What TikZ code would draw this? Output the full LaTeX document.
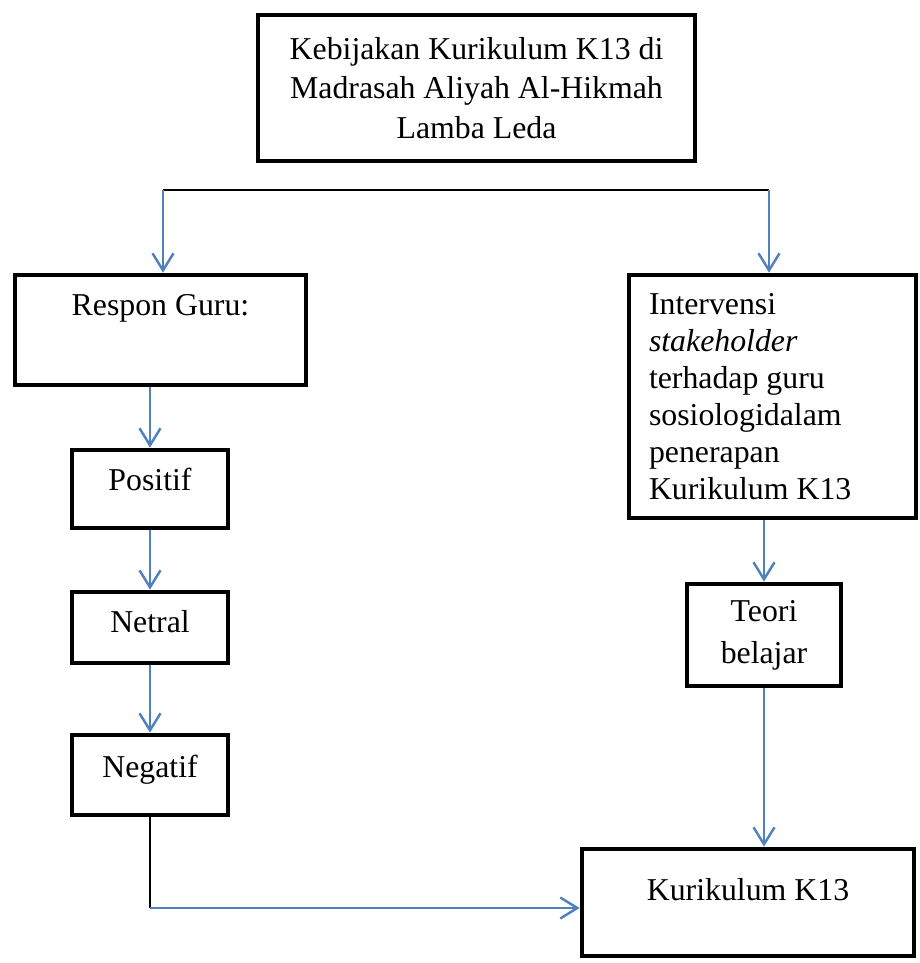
\documentclass[tikz,border=0pt]{standalone}
\usepackage{fontspec}
\setmainfont{Liberation Serif}
\usepackage{tikz}
\usetikzlibrary{arrows.meta}
\definecolor{flowblue}{RGB}{79,129,189}

\begin{document}
\begin{tikzpicture}[
    box/.style={draw, line width=2.7pt, inner ysep=0pt, align=center,
        font=\fontsize{18.1pt}{21.1pt}\selectfont},
    flow/.style={draw=flowblue, line width=1.4pt,
        -{Straight Barb[length=3.4mm, width=4.2mm]}},
    link/.style={draw, line width=1.1pt}
]
    \useasboundingbox (0,0) rectangle (18.4,-19.26);

    % kebijakan
    \node[box, minimum width=8.74cm, minimum height=2.92cm] (kebijakan) at (9.53,-1.76)
        {Kebijakan Kurikulum K13 di\\[0.05cm]Madrasah Aliyah Al-Hikmah\\[0.05cm]Lamba Leda};

    % left branch
    \node[box, anchor=base, minimum width=5.82cm, text height=0.8cm, text depth=1.4cm]
        (respon) at (3.21,-6.30) {Respon Guru:};
    \node[box, anchor=base, minimum width=3.12cm, text height=0.8cm, text depth=0.76cm]
        (positif) at (3.0,-9.8) {Positif};
    \node[box, anchor=base, minimum width=3.12cm, text height=0.8cm, text depth=0.62cm]
        (netral) at (3.0,-12.64) {Netral};
    \node[box, anchor=base, minimum width=3.12cm, text height=0.84cm, text depth=0.76cm]
        (negatif) at (3.0,-15.54) {Negatif};

    % right branch
    \node[box, align=flush left, minimum width=5.74cm, minimum height=4.86cm, text width=4.94cm,
        inner xsep=0.4cm] (intervensi) at (15.45,-7.93)
        {Intervensi\\\textit{stakeholder}\\terhadap guru\\sosiologidalam\\penerapan\\Kurikulum K13};
    \node[box, minimum width=3.08cm, minimum height=2.04cm] (teori) at (15.28,-12.7)
        {Teori\\[0.1cm]belajar};

    \node[box, anchor=base, minimum width=6.64cm, text height=1.02cm, text depth=1.12cm]
        (kurikulum) at (14.96,-18.0) {Kurikulum K13};

    % connectors
    \coordinate (forkL) at (3.26,-3.8);
    \coordinate (forkR) at (15.38,-3.8);
    \coordinate (turn) at (3.0,-18.16);

    \draw[link] (forkL) -- (forkR);
    \draw[flow] (forkL) -- (forkL |- respon.north);
    \draw[flow] (forkR) -- (forkR |- intervensi.north);

    \draw[flow] (positif.north |- respon.south) -- (positif.north);
    \draw[flow] (positif) -- (netral);
    \draw[flow] (netral) -- (negatif);
    \draw[link] (negatif.south) -- (turn);
    \draw[flow] (turn) -- (turn -| kurikulum.west);

    \draw[flow] (teori.north |- intervensi.south) -- (teori.north);
    \draw[flow] (teori.south) -- (teori.south |- kurikulum.north);
\end{tikzpicture}
\end{document}
